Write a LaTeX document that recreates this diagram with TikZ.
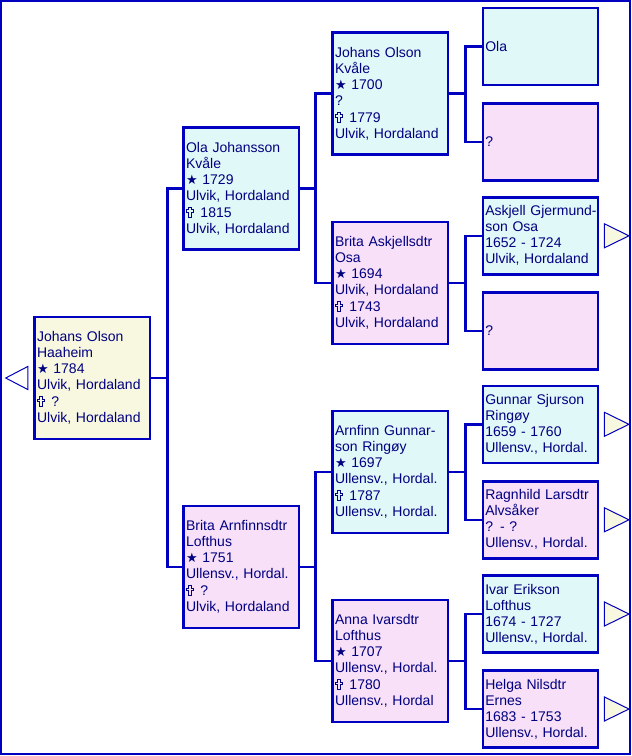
\documentclass[tikz,border=0pt]{standalone}
\usepackage{fontspec}
\setmainfont{Liberation Sans}
\newfontfamily\symfont{DejaVu Sans}
\usetikzlibrary{calc}

\definecolor{frameblue}{HTML}{0000C0}
\definecolor{textblue}{HTML}{000080}
\definecolor{malefill}{HTML}{E0F8F8}
\definecolor{femalefill}{HTML}{F8E0F8}
\definecolor{rootfill}{HTML}{F8F8E0}

\newcommand{\born}[1]{{\symfont\fontsize{13}{16}\selectfont ★}~#1}
% outlined cross drawn as a small inline picture
\newcommand{\died}[1]{\kern0.8pt\tikz[baseline=0pt, x=1pt, y=1pt]
    \draw[textblue, line width=0.9pt] (2.2,0) -- (4.4,0) -- (4.4,5.2) -- (6.6,5.2) -- (6.6,7.4)
        -- (4.4,7.4) -- (4.4,9.8) -- (2.2,9.8) -- (2.2,7.4) -- (0,7.4) -- (0,5.2) -- (2.2,5.2) -- cycle;%
    \kern2.2pt~#1}

\begin{document}
\begin{tikzpicture}[x=1pt, y=-1pt,
    box/.style={draw=frameblue, line width=2.5pt, rectangle, text=textblue, align=left,
        text width=110.4pt, inner xsep=2.5pt, inner ysep=0pt, minimum height=122pt,
        font=\fontsize{14}{16}\selectfont},
    smallbox/.style={box, minimum height=77pt},
    link/.style={draw=frameblue, line width=2.5pt},
    moretri/.style={draw=frameblue, line width=1pt, fill=rootfill}]
    \useasboundingbox (0,0) rectangle (632,756);
    \draw[frameblue, line width=2.5pt] (1.2,1.2) rectangle (630,754);

    % generation 0
    \node at (92.3,378) [box, fill=rootfill] (p0) {Johans Olson\\Haaheim\\\born{1784}\\Ulvik, Hordaland\\\died{?}\\Ulvik, Hordaland};

    % generation 1
    \node at (241.3,188.7) [box, fill=malefill] (f) {Ola Johansson\\Kvåle\\\born{1729}\\Ulvik, Hordaland\\\died{1815}\\Ulvik, Hordaland};
    \node at (241.3,567) [box, fill=femalefill] (m) {Brita Arnfinnsdtr\\Lofthus\\\born{1751}\\Ullensv., Hordal.\\\died{?}\\Ulvik, Hordaland};

    % generation 2
    \node at (390.3,93.7) [box, fill=malefill] (ff) {Johans Olson\\Kvåle\\\born{1700}\\?\\\died{1779}\\Ulvik, Hordaland};
    \node at (390.3,283) [box, fill=femalefill] (fm) {Brita Askjellsdtr\\Osa\\\born{1694}\\Ulvik, Hordaland\\\died{1743}\\Ulvik, Hordaland};
    \node at (390.3,472) [box, fill=malefill] (mf) {Arnfinn Gunnar-\\son Ringøy\\\born{1697}\\Ullensv., Hordal.\\\died{1787}\\Ullensv., Hordal.};
    \node at (390.3,661) [box, fill=femalefill] (mm) {Anna Ivarsdtr\\Lofthus\\\born{1707}\\Ullensv., Hordal.\\\died{1780}\\Ullensv., Hordal};

    % generation 3
    \node at (540.5,46.6) [smallbox, fill=malefill] (fff) {Ola};
    \node at (540.5,142) [smallbox, fill=femalefill] (ffm) {?};
    \node at (540.5,235.8) [smallbox, fill=malefill] (fmf) {\mbox{Askjell Gjermund-}\\son Osa\\1652 - 1724\\Ulvik, Hordaland};
    \node at (540.5,330.8) [smallbox, fill=femalefill] (fmm) {?};
    \node at (540.5,424.3) [smallbox, fill=malefill] (mff) {Gunnar Sjurson\\Ringøy\\1659 - 1760\\Ullensv., Hordal.};
    \node at (540.5,519.8) [smallbox, fill=femalefill] (mfm) {Ragnhild Larsdtr\\Alvsåker\\? - ?\\Ullensv., Hordal.};
    \node at (540.5,614) [smallbox, fill=malefill] (mmf) {Ivar Erikson\\Lofthus\\1674 - 1727\\Ullensv., Hordal.};
    \node at (540.5,709) [smallbox, fill=femalefill] (mmm) {Helga Nilsdtr\\Ernes\\1683 - 1753\\Ullensv., Hordal.};

    % junctions
    \coordinate (j0) at (167.7,378);
    \coordinate (jf) at (315.7,188.7);
    \coordinate (jm) at (315.7,567);
    \coordinate (jff) at (465.3,93.7);
    \coordinate (jfm) at (465.3,283);
    \coordinate (jmf) at (465.3,472);
    \coordinate (jmm) at (465.3,661);

    \draw[link] (p0) -- (j0);
    \draw[link] (f.west) -| (j0) |- (m.west);
    \draw[link] (f) -- (jf);
    \draw[link] (ff.west) -| (jf) |- (fm.west);
    \draw[link] (m) -- (jm);
    \draw[link] (mf.west) -| (jm) |- (mm.west);
    \draw[link] (ff) -- (jff);
    \draw[link] (fff.west) -| (jff) |- (ffm.west);
    \draw[link] (fm) -- (jfm);
    \draw[link] (fmf.west) -| (jfm) |- (fmm.west);
    \draw[link] (mf) -- (jmf);
    \draw[link] (mff.west) -| (jmf) |- (mfm.west);
    \draw[link] (mm) -- (jmm);
    \draw[link] (mmf.west) -| (jmm) |- (mmm.west);

    % arrows to more generations
    \draw[moretri, fill=white] ($(p0.west)+(-5.6,-11.5)$) -- ++(0,23) -- (5.7,378) -- cycle;
    \foreach \n in {fmf,mff,mfm,mmf,mmm}
        \draw[moretri] ($(\n.east)+(5,-12)$) -- ++(0,24) -- ++(24.5,-12) -- cycle;
\end{tikzpicture}
\end{document}
